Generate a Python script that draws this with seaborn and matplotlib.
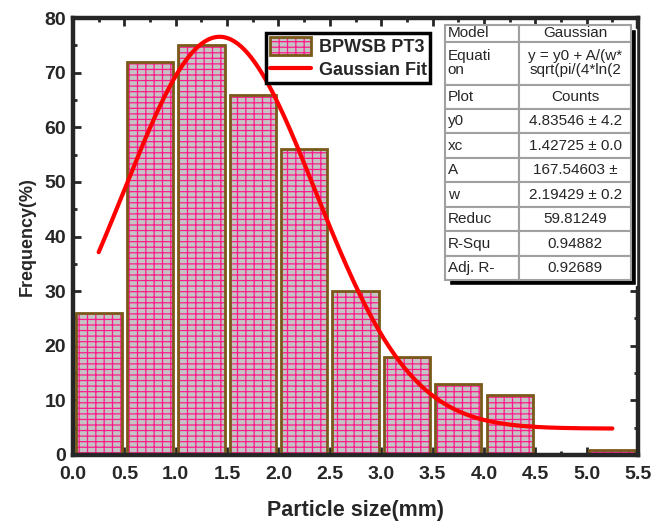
import numpy as np
import pandas as pd
import matplotlib
matplotlib.use("Agg")
import matplotlib.pyplot as plt
import seaborn as sns
from matplotlib.patches import Patch, Rectangle
from matplotlib.lines import Line2D
from matplotlib.legend_handler import HandlerTuple
from matplotlib.ticker import MultipleLocator, FormatStrFormatter

# Data
bin_centers = [0.25, 0.75, 1.25, 1.75, 2.25, 2.75, 3.25, 3.75, 4.25, 4.75, 5.25]
frequency = [26, 72, 75, 66, 56, 30, 18, 13, 11, 0, 1]

# Gaussian fit parameters (from the fit table)
y0, xc, A, w = 4.83546, 1.42725, 167.54603, 2.19429
table_rows = [
    ["Model", "Gaussian"],
    ["Equati\non", "y = y0 + A/(w*\nsqrt(pi/(4*ln(2"],
    ["Plot", "Counts"],
    ["y0", "4.83546 \u00b1 4.2"],
    ["xc", "1.42725 \u00b1 0.0"],
    ["A", "167.54603 \u00b1"],
    ["w", "2.19429 \u00b1 0.2"],
    ["Reduc", "59.81249"],
    ["R-Squ", "0.94882"],
    ["Adj. R-", "0.92689"],
]

sns.set_style("ticks")
plt.rcParams["font.family"] = ["Liberation Sans", "DejaVu Sans"]
plt.rcParams["hatch.linewidth"] = 0.9

df = pd.DataFrame({"size": bin_centers, "freq": frequency})

fig = plt.figure(figsize=(6.54, 5.29), dpi=100)
ax = fig.add_axes([0.1116, 0.1399, 0.864, 0.826])

fill_color = "#c4c4c4"
brick_color = "#ff1a8c"
edge_color = "#7a5a1a"

# hatched fill
sns.barplot(data=df, x="size", y="freq", native_scale=True, width=0.9,
            errorbar=None, color=fill_color, saturation=1, ax=ax,
            edgecolor=brick_color, linewidth=0, zorder=2)
for p in ax.patches:
    p.set_hatch("---||")
    p.set_edgecolor(brick_color)
    p.set_linewidth(0)
# brown outline
n0 = len(ax.patches)
sns.barplot(data=df, x="size", y="freq", native_scale=True, width=0.9,
            errorbar=None, fill=False, ax=ax, zorder=3)
for p in ax.patches[n0:]:
    p.set_edgecolor(edge_color)
    p.set_linewidth(2)

# Gaussian fit curve
xs = np.linspace(bin_centers[0], bin_centers[-1], 300)
k = 4 * np.log(2)
fit = y0 + A / (w * np.sqrt(np.pi / k)) * np.exp(-k * (xs - xc) ** 2 / w ** 2)
ax.plot(xs, fit, color="red", lw=3, zorder=4)

ax.set_xlim(0, 5.5)
ax.set_ylim(0, 80)
ax.xaxis.set_major_locator(MultipleLocator(0.5))
ax.xaxis.set_major_formatter(FormatStrFormatter("%.1f"))
ax.yaxis.set_major_locator(MultipleLocator(10))
ax.yaxis.set_minor_locator(MultipleLocator(5))
ax.xaxis.set_minor_locator(MultipleLocator(0.25))
ax.tick_params(which="both", direction="in", top=True, right=True, width=2,
               labelsize=14)
ax.tick_params(axis="x", pad=8)
ax.tick_params(axis="y", pad=5)
ax.tick_params(which="major", length=6)
ax.tick_params(which="minor", length=3)
for lab in ax.get_xticklabels() + ax.get_yticklabels():
    lab.set_fontweight("bold")
for s in ax.spines.values():
    s.set_linewidth(3.2)
    s.set_zorder(6)

ax.set_xlabel("Particle size(mm)", fontsize=15.5, fontweight="bold", labelpad=12)
ax.set_ylabel("Frequency(%)", fontsize=13, fontweight="bold", labelpad=6)

# legend
bar_handle = (Patch(facecolor=fill_color, edgecolor=brick_color, hatch="---||", lw=0),
              Patch(facecolor="none", edgecolor=edge_color, lw=2))
line_handle = Line2D([], [], color="red", lw=3)
leg = ax.legend([bar_handle, line_handle], ["BPWSB PT3", "Gaussian Fit"],
                handler_map={tuple: HandlerTuple(ndivide=1)},
                loc="upper left", bbox_to_anchor=(0.342, 0.965),
                prop={"weight": "bold", "size": 13}, frameon=True,
                fancybox=False, edgecolor="black", framealpha=1,
                handlelength=2.3, handleheight=1.2, borderpad=0.2,
                labelspacing=0.2, handletextpad=0.4, borderaxespad=0)
leg.get_frame().set_linewidth(2.5)
leg.set_zorder(7)

# fit table with drop shadow
tb_x, tb_y, tb_w, tb_h = 0.658, 0.40, 0.33, 0.585
ax.add_patch(Rectangle((tb_x + 0.008, tb_y - 0.01), tb_w, tb_h, transform=ax.transAxes,
                       facecolor="black", zorder=7, clip_on=False))
tab = ax.table(cellText=table_rows, bbox=[tb_x, tb_y, tb_w, tb_h],
               colWidths=[0.4, 0.6], zorder=8)
tab.auto_set_font_size(False)
tab.set_fontsize(11)
for (r, c), cell in tab.get_celld().items():
    cell.set_edgecolor("#a0a0a0")
    cell.set_linewidth(1.5)
    cell.set_facecolor("white")
    cell.set_height(0.7 if r == 0 else (1.75 if r == 1 else 1.0))
    cell.get_text().set_ha("left" if c == 0 else "center")
    cell.get_text().set_linespacing(1.0)
    if c == 0:
        cell.PAD = 0.04
tab.set_zorder(8)

fig.savefig("out.png", dpi=100)
